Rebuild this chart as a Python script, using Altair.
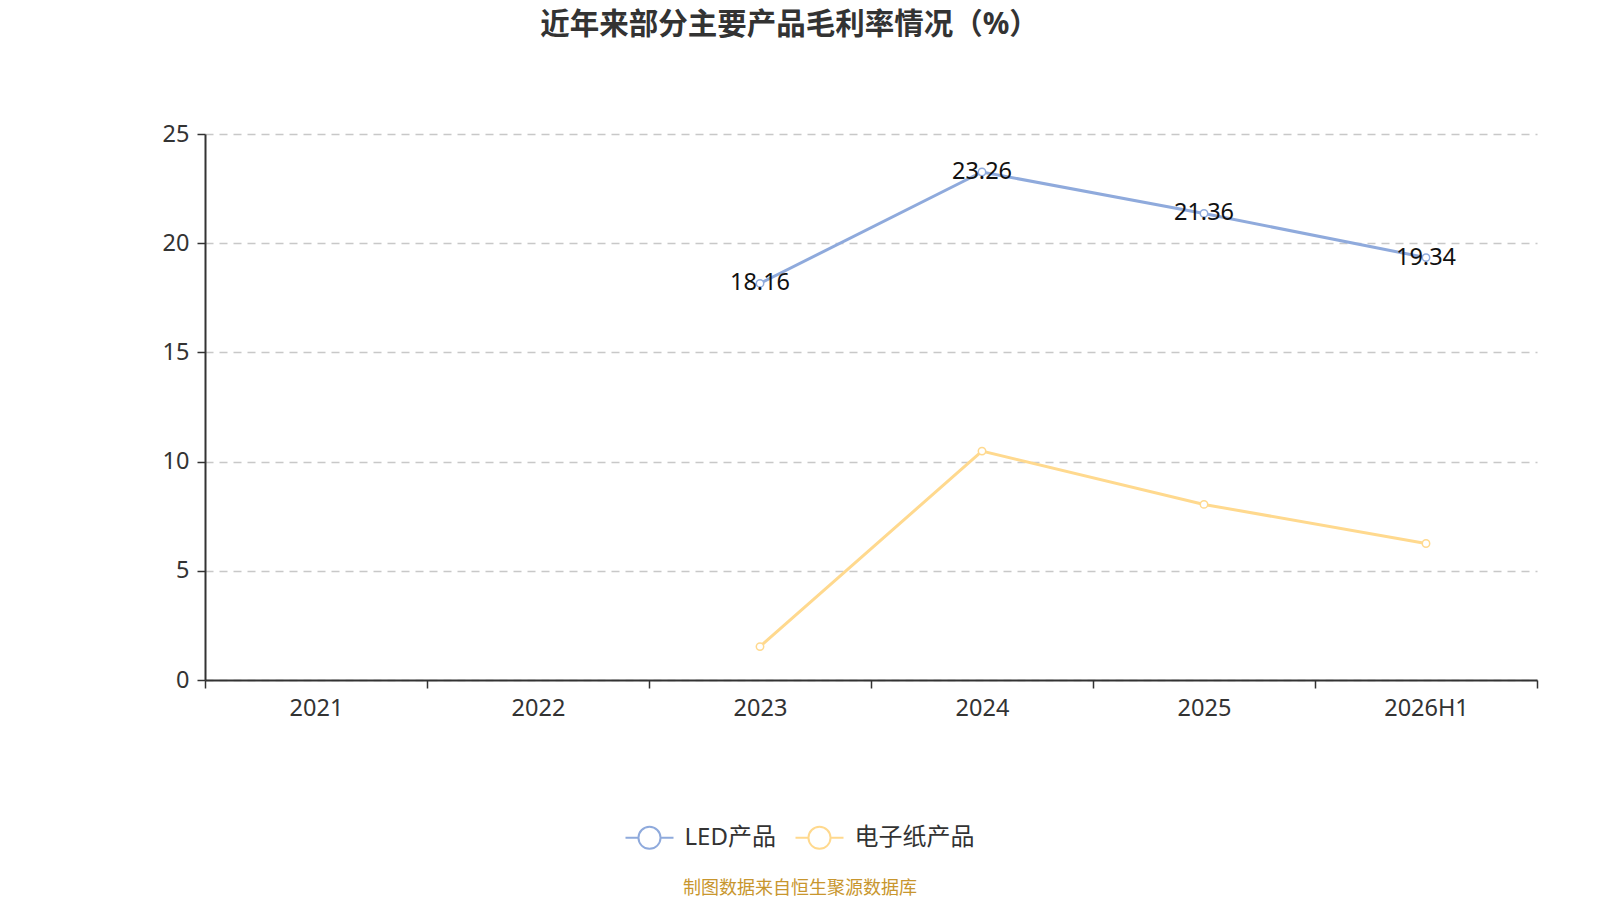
import altair as alt
import pandas as pd

years = ["2021", "2022", "2023", "2024", "2025", "2026H1"]
series_names = ["LED产品", "电子纸产品"]
led_years = ["2023", "2024", "2025", "2026H1"]
led_values = [18.16, 23.26, 21.36, 19.34]
epaper_years = ["2023", "2024", "2025", "2026H1"]
epaper_values = [1.53, 10.48, 8.04, 6.25]
colors = ["#8FAADC", "#FFD98E"]

rows = [{"year": y, "value": v, "series": series_names[0]} for y, v in zip(led_years, led_values)]
rows += [{"year": y, "value": v, "series": series_names[1]} for y, v in zip(epaper_years, epaper_values)]
df = pd.DataFrame(rows)

FONT = "Noto Sans, Noto Sans CJK SC"
sym = "M-1,0L-0.46,0M0.46,0L1,0M0.46,0A0.46,0.46,0,1,1,-0.46,0A0.46,0.46,0,1,1,0.46,0Z"

x = alt.X("year:N", sort=years,
          scale=alt.Scale(type="band", domain=years, paddingInner=0, paddingOuter=0),
          bandPosition=0.5,
          axis=alt.Axis(title=None, tickBand="extent", labelAngle=0, labelFontSize=23.5,
                        labelColor="#333333", labelPadding=8, tickSize=8, tickColor="#333333",
                        tickWidth=1.5, domainColor="#333333", domainWidth=2, grid=False,
                        labelFont=FONT))
y = alt.Y("value:Q", scale=alt.Scale(domain=[0, 25], nice=False),
          axis=alt.Axis(title=None, values=[0, 5, 10, 15, 20, 25], labelFontSize=23.5,
                        labelColor="#333333", labelPadding=8, tickSize=8, tickColor="#333333",
                        tickWidth=1.5, domainColor="#333333", domainWidth=2, grid=True,
                        gridColor="#c8c8c8", gridDash=[8, 6], gridWidth=1.5, labelFont=FONT))
legend = alt.Legend(title=None, orient="none", legendX=419.5, legendY=678.3, direction="horizontal",
                    symbolType=sym, symbolSize=2304, symbolStrokeWidth=2, symbolFillColor="white",
                    labelFontSize=24, labelColor="#333333", labelFont=FONT, columnPadding=15,
                    labelOffset=10)
color = alt.Color("series:N", scale=alt.Scale(domain=series_names, range=colors), legend=legend)

base = alt.Chart(df)
lines = base.mark_line(strokeWidth=3).encode(x=x, y=y, color=color)
points = base.mark_point(shape="circle", filled=False, fill="white", size=55, strokeWidth=1.5,
                         opacity=1).encode(x=x, y=y, color=color)
labels = base.transform_filter(alt.datum.series == series_names[0]).mark_text(
    fontSize=23.5, color="#111111", font=FONT, baseline="middle", align="center"
).encode(x=x, y=y, text=alt.Text("value:Q", format=".2f"))

source = alt.Chart(pd.DataFrame({"t": ["制图数据来自恒生聚源数据库"]})).mark_text(
    fontSize=18, color="#C8962E", font=FONT, align="center", baseline="middle"
).encode(x=alt.value(595), y=alt.value(754.8), text="t:N")

chart = alt.layer(lines, points, labels, source).properties(
    width=1332, height=546,
    autosize=alt.AutoSizeParams(type="none"),
    padding={"left": 197, "top": 126, "right": 50, "bottom": 222},
    title=alt.TitleParams("近年来部分主要产品毛利率情况（%）", fontSize=29.5, fontWeight="bold",
                          color="#333333", font=FONT, anchor="middle", dx=-81.5, offset=82),
).configure_view(stroke=None)

chart.save("out.html", embed_options={"renderer": "svg", "actions": False})
